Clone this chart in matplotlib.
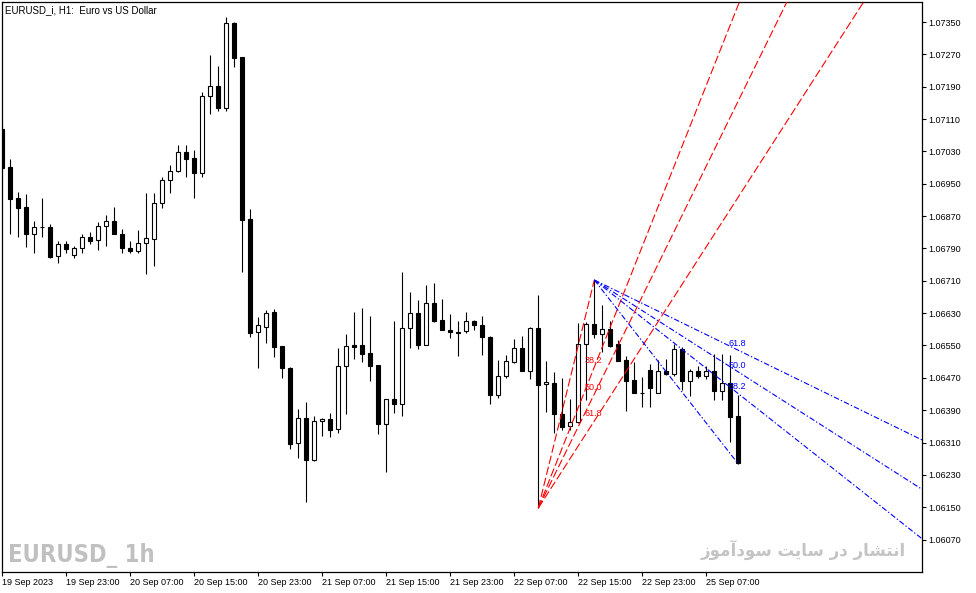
import numpy as np
import matplotlib
matplotlib.use("Agg")
import matplotlib.pyplot as plt

plt.rcParams['font.family'] = ['Liberation Sans', 'DejaVu Sans']
plt.rcParams['lines.scale_dashes'] = False

# EURUSD H1 candles, 19 Sep 15:00 .. 25 Sep 12:00
opens = [1.07085, 1.06991, 1.06915, 1.06893, 1.06826, 1.06843, 1.06843, 1.06771, 1.06801, 1.06774,
         1.06791, 1.06818, 1.06811, 1.06846, 1.06858, 1.06826, 1.06791, 1.06784, 1.06803, 1.06813,
         1.06902, 1.06959, 1.06982, 1.07029, 1.07014, 1.06977, 1.07167, 1.07192, 1.07137, 1.07348,
         1.07263, 1.06863, 1.06583, 1.06596, 1.06633, 1.06549, 1.06494, 1.06309, 1.06371, 1.06267,
         1.06363, 1.06368, 1.06343, 1.06499, 1.06551, 1.06551, 1.06531, 1.06502, 1.06356, 1.06418,
         1.06405, 1.06593, 1.06630, 1.06551, 1.06655, 1.06613, 1.06588, 1.06583, 1.06586, 1.06611,
         1.06601, 1.06571, 1.06428, 1.06475, 1.06509, 1.06544, 1.06487, 1.06593, 1.06455, 1.06457,
         1.06381, 1.06351, 1.06361, 1.06554, 1.06603, 1.06578, 1.06591, 1.06554, 1.06514, 1.06465,
         1.06432, 1.06489, 1.06432, 1.06487, 1.06479, 1.06541, 1.06462, 1.06487, 1.06475, 1.06487,
         1.06437, 1.06457, 1.06376]
highs = [1.07095, 1.07011, 1.06930, 1.06925, 1.06858, 1.06915, 1.06850, 1.06808, 1.06808, 1.06796,
         1.06826, 1.06831, 1.06855, 1.06873, 1.06893, 1.06838, 1.06808, 1.06836, 1.06927, 1.06927,
         1.06967, 1.06996, 1.07046, 1.07046, 1.07033, 1.07177, 1.07268, 1.07241, 1.07362, 1.07350,
         1.07263, 1.06888, 1.06620, 1.06638, 1.06640, 1.06549, 1.06497, 1.06393, 1.06410, 1.06376,
         1.06371, 1.06383, 1.06544, 1.06578, 1.06633, 1.06643, 1.06623, 1.06502, 1.06418, 1.06611,
         1.06732, 1.06682, 1.06663, 1.06700, 1.06705, 1.06665, 1.06628, 1.06611, 1.06633, 1.06613,
         1.06623, 1.06574, 1.06514, 1.06526, 1.06566, 1.06574, 1.06596, 1.06675, 1.06512, 1.06484,
         1.06470, 1.06418, 1.06606, 1.06608, 1.06712, 1.06650, 1.06611, 1.06564, 1.06524, 1.06509,
         1.06472, 1.06504, 1.06514, 1.06517, 1.06554, 1.06546, 1.06492, 1.06499, 1.06499, 1.06529,
         1.06529, 1.06526, 1.06428]
lows = [1.06984, 1.06826, 1.06818, 1.06794, 1.06779, 1.06818, 1.06766, 1.06754, 1.06779, 1.06766,
        1.06779, 1.06801, 1.06786, 1.06796, 1.06826, 1.06779, 1.06779, 1.06779, 1.06727, 1.06747,
        1.06890, 1.06927, 1.06979, 1.06967, 1.06915, 1.06967, 1.07122, 1.07130, 1.07130, 1.07239,
        1.06732, 1.06571, 1.06494, 1.06556, 1.06522, 1.06470, 1.06294, 1.06272, 1.06163, 1.06264,
        1.06326, 1.06324, 1.06334, 1.06381, 1.06517, 1.06509, 1.06462, 1.06331, 1.06237, 1.06383,
        1.06376, 1.06544, 1.06541, 1.06551, 1.06608, 1.06588, 1.06569, 1.06524, 1.06581, 1.06588,
        1.06526, 1.06405, 1.06420, 1.06470, 1.06507, 1.06487, 1.06467, 1.06148, 1.06386, 1.06334,
        1.06341, 1.06341, 1.06358, 1.06415, 1.06569, 1.06534, 1.06546, 1.06512, 1.06388, 1.06432,
        1.06398, 1.06398, 1.06432, 1.06477, 1.06475, 1.06440, 1.06425, 1.06470, 1.06467, 1.06415,
        1.06415, 1.06311, 1.06257]
closes = [1.06989, 1.06912, 1.06890, 1.06826, 1.06843, 1.06843, 1.06769, 1.06801, 1.06789, 1.06791,
          1.06818, 1.06808, 1.06846, 1.06858, 1.06826, 1.06791, 1.06784, 1.06803, 1.06816, 1.06902,
          1.06959, 1.06982, 1.07029, 1.07011, 1.06977, 1.07167, 1.07192, 1.07137, 1.07348, 1.07261,
          1.06860, 1.06581, 1.06601, 1.06630, 1.06546, 1.06494, 1.06306, 1.06371, 1.06267, 1.06363,
          1.06368, 1.06341, 1.06499, 1.06549, 1.06546, 1.06529, 1.06499, 1.06356, 1.06418, 1.06405,
          1.06593, 1.06630, 1.06551, 1.06655, 1.06611, 1.06588, 1.06583, 1.06581, 1.06611, 1.06601,
          1.06571, 1.06428, 1.06475, 1.06512, 1.06544, 1.06487, 1.06593, 1.06452, 1.06460, 1.06381,
          1.06348, 1.06361, 1.06554, 1.06603, 1.06578, 1.06591, 1.06549, 1.06512, 1.06462, 1.06432,
          1.06432, 1.06445, 1.06487, 1.06479, 1.06541, 1.06462, 1.06487, 1.06475, 1.06487, 1.06437,
          1.06457, 1.06373, 1.06259]

x_labels = ["19 Sep 2023", "19 Sep 23:00", "20 Sep 07:00", "20 Sep 15:00", "20 Sep 23:00",
            "21 Sep 07:00", "21 Sep 15:00", "21 Sep 23:00", "22 Sep 07:00", "22 Sep 15:00",
            "22 Sep 23:00", "25 Sep 07:00"]
y_ticks = [1.06070, 1.06150, 1.06230, 1.06310, 1.06390, 1.06470, 1.06550, 1.06630, 1.06710,
           1.06790, 1.06870, 1.06950, 1.07030, 1.07110, 1.07190, 1.07270, 1.07350]

# fibonacci fans: bar indexes of the anchor points
fib_levels = [0.382, 0.5, 0.618]
red_start, red_end = 67, 74     # low -> high
blue_start, blue_end = 74, 92   # high -> low

title = "EURUSD_i, H1:  Euro vs US Dollar"
watermark = "EURUSD_ 1h"
site_text = "انتشار در سایت سودآموز"


# small persian shaper (matplotlib does no arabic shaping / rtl)
FORMS = {
    'ا': ('\uFE8D', '\uFE8E'), 'آ': ('\uFE81', '\uFE82'),
    'د': ('\uFEA9', '\uFEAA'), 'ر': ('\uFEAD', '\uFEAE'),
    'ز': ('\uFEAF', '\uFEB0'), 'و': ('\uFEED', '\uFEEE'),
    'ن': ('\uFEE5', '\uFEE6', '\uFEE7', '\uFEE8'),
    'ت': ('\uFE95', '\uFE96', '\uFE97', '\uFE98'),
    'ش': ('\uFEB5', '\uFEB6', '\uFEB7', '\uFEB8'),
    'س': ('\uFEB1', '\uFEB2', '\uFEB3', '\uFEB4'),
    'ی': ('\uFBFC', '\uFBFD', '\uFBFE', '\uFBFF'),
    'م': ('\uFEE1', '\uFEE2', '\uFEE3', '\uFEE4'),
}


def shape_rtl(s):
    out = []
    for i, c in enumerate(s):
        if c not in FORMS:
            out.append(c)
            continue
        prev = s[i - 1] if i > 0 else ''
        nxt = s[i + 1] if i + 1 < len(s) else ''
        jp = prev in FORMS and len(FORMS[prev]) == 4
        jn = len(FORMS[c]) == 4 and nxt in FORMS
        f = FORMS[c]
        if jp and jn:
            out.append(f[3])
        elif jp:
            out.append(f[1])
        elif jn:
            out.append(f[2])
        else:
            out.append(f[0])
    return ''.join(reversed(out))


W, H = 976, 593
fig = plt.figure(figsize=(W / 100, H / 100), dpi=100)
ax = fig.add_axes([2 / W, 21 / H, 920 / W, 570 / H])

o = np.array(opens)
c = np.array(closes)
x = np.arange(len(o))
up = c >= o

ax.vlines(x, lows, highs, color='black', lw=0.8, zorder=2)
ax.bar(x, np.abs(c - o), bottom=np.minimum(o, c), width=0.5,
       color=['white' if u else 'black' for u in up],
       edgecolor='black', linewidth=0.8, zorder=3)


def fan(i0, p0, i1, p1, color, dash):
    ax.plot([i0, i1], [p0, p1], color=color, lw=0.8, ls=dash, zorder=4)
    xe = 140
    for lv in fib_levels:
        py = p1 + lv * (p0 - p1)
        k = (py - p0) / (i1 - i0)
        ax.plot([i0, xe], [p0, p0 + k * (xe - i0)], color=color, lw=0.8, ls=dash, zorder=4)
        ax.annotate(f"{lv * 100:.1f}", (i1, py), xytext=(-1, 5), textcoords='offset points',
                    ha='center', va='center', color=color, fontsize=6.5, zorder=5)


fan(red_start, lows[red_start], red_end, highs[red_end], '#ff0000', (0, (6, 2.2)))
fan(blue_start, highs[blue_start], blue_end, lows[blue_end], '#0000ff', (0, (4, 1.5, 1, 1.5)))

ax.set_xlim(-0.04, 114.96)
ax.set_ylim(1.059898, 1.073995)

ax.set_xticks(np.arange(len(x_labels)) * 8)
ax.set_xticklabels(x_labels, ha='left')
ax.set_yticks(y_ticks)
ax.set_yticklabels([f"{v:.5f}" for v in y_ticks])
ax.yaxis.tick_right()
ax.tick_params(axis='y', direction='out', length=3, width=0.8, labelsize=6.5, pad=1.5)
ax.tick_params(axis='x', direction='out', length=3, width=0.8, labelsize=6.5, pad=1.5)
for s in ax.spines.values():
    s.set_linewidth(0.9)
    s.set_color('black')

fig.text(5 / W, 1 - 10 / H, title, ha='left', va='center', fontsize=7)
fig.text(8 / W, 1 - 562 / H, watermark, ha='left', va='baseline', fontsize=17,
         weight='bold', stretch='condensed', family=['DejaVu Sans'], color='#c0c0c0')
fig.text(906 / W, 1 - 556 / H, shape_rtl(site_text), ha='right', va='baseline', fontsize=12,
         weight='bold', family=['DejaVu Sans'], color='#c4c4c4')

fig.savefig("out.png", dpi=100)
